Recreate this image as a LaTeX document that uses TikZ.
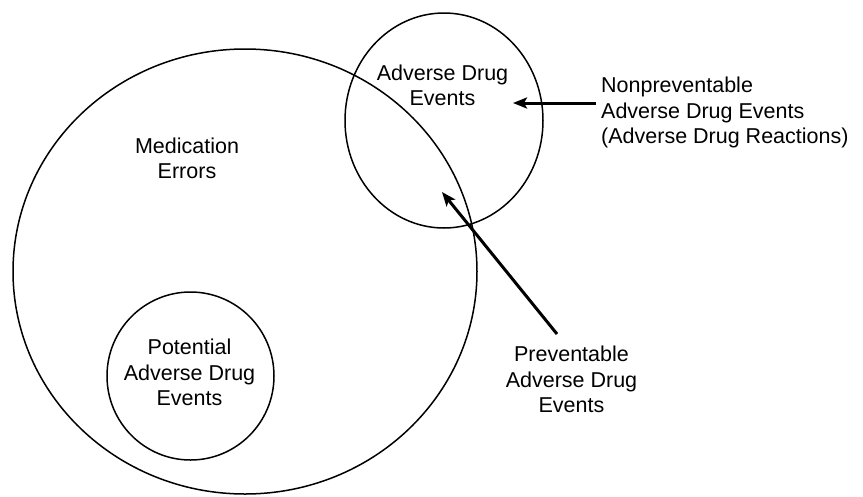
\documentclass[tikz,border=0pt]{standalone}
\usepackage{fontspec}
\setmainfont{Liberation Sans}
\usetikzlibrary{arrows.meta}
\begin{document}
\begin{tikzpicture}[x=1pt,y=-1pt,
  setline/.style={line width=1.5pt},
  lbl/.style={inner sep=0pt,align=center,font=\fontsize{21.5}{25.5}\selectfont},
  pointer/.style={line width=3pt,-{Stealth[length=14pt,width=11pt,inset=3pt]}}]
  \useasboundingbox (0,0) rectangle (863,496);
  % sets
  \draw[setline] (245,271.5) ellipse [x radius=232, y radius=222.5];
  \draw[setline] (444,120.5) ellipse [x radius=99, y radius=107.5];
  \draw[setline] (190.5,376) ellipse [x radius=83.5, y radius=84];
  % labels
  \node[lbl] (med) at (187,158.5) {Medication\\Errors};
  \node[lbl] (pot) at (189.5,372.5) {Potential\\Adverse Drug\\Events};
  \node[lbl] (ade) at (442.5,85.5) {Adverse Drug\\Events};
  \node[lbl,align=left,anchor=west] (np) at (601,112.5) {Nonpreventable\\Adverse Drug Events\\(Adverse Drug Reactions)};
  \node[lbl] (pv) at (571.5,379.5) {Preventable\\Adverse Drug\\Events};
  % pointers
  \coordinate (npTail) at (596,103);
  \coordinate (npTip) at (513,103);
  \coordinate (pvTail) at (557,334);
  \coordinate (pvTip) at (442,192);
  \draw[pointer] (npTail) -- (npTip);
  \draw[pointer] (pvTail) -- (pvTip);
\end{tikzpicture}
\end{document}
